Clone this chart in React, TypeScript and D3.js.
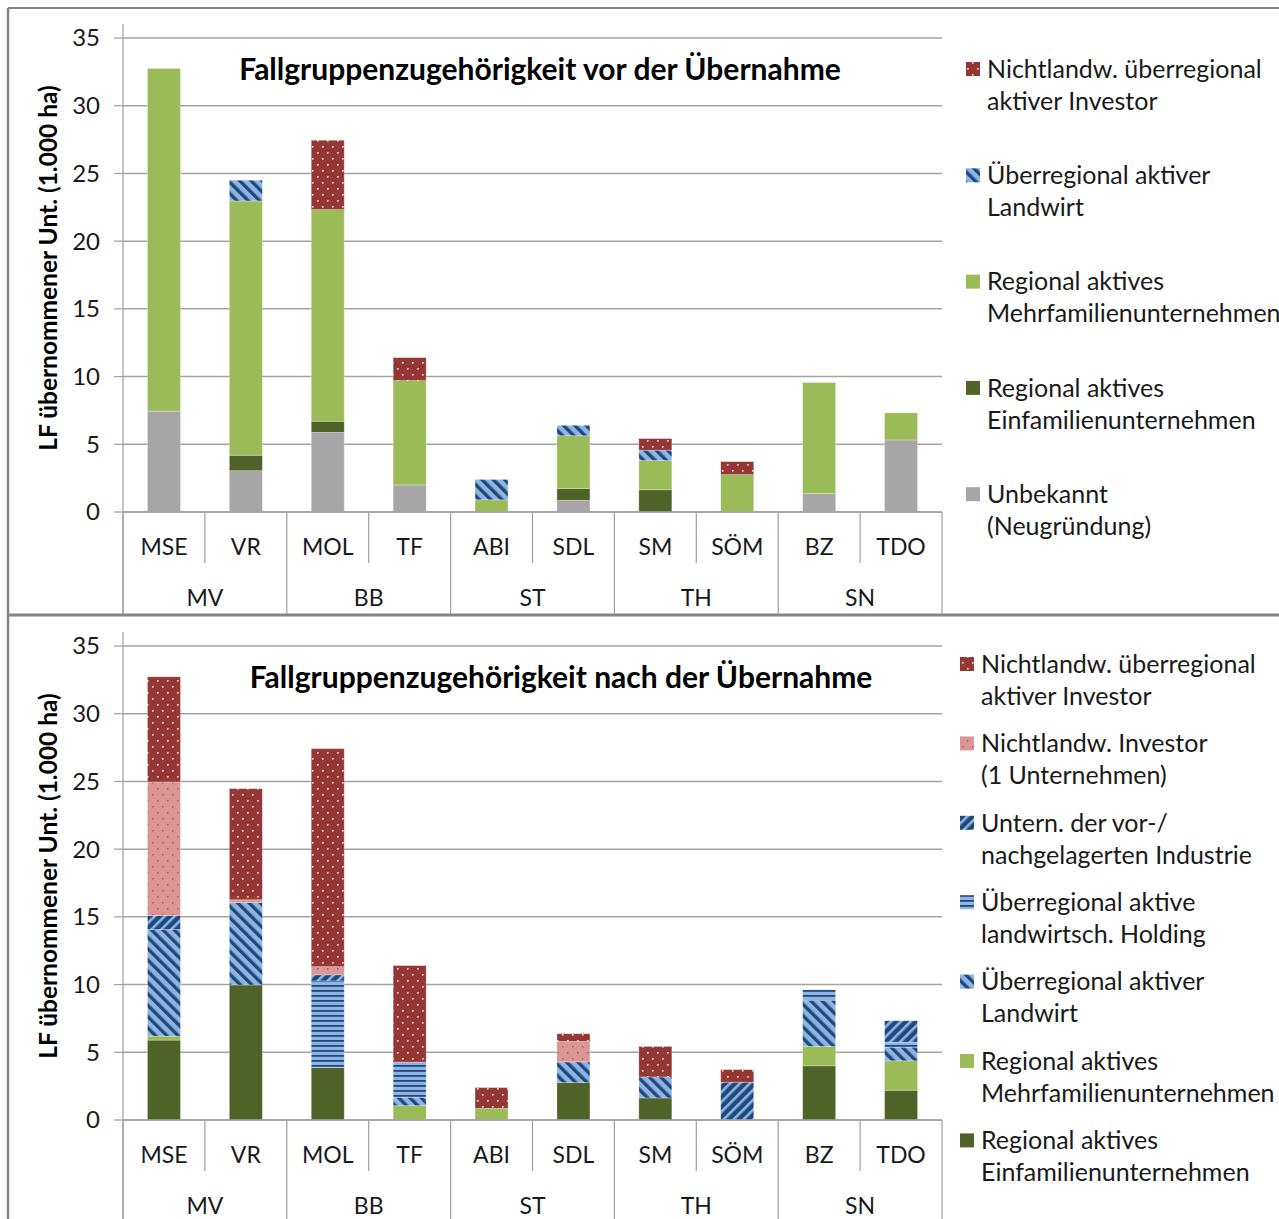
import React from 'react';
import * as d3 from 'd3';

const categories = ['MSE', 'VR', 'MOL', 'TF', 'ABI', 'SDL', 'SM', 'SÖM', 'BZ', 'TDO'];
const groups = ['MV', 'BB', 'ST', 'TH', 'SN'];
const yTicks = [0, 5, 10, 15, 20, 25, 30, 35];

// Panel 1: vor der Übernahme (stack order bottom -> top)
const vorUnbekannt = [7.45, 3.05, 5.88, 2.0, 0, 0.86, 0, 0, 1.36, 5.32];
const vorEinfamilien = [0, 1.14, 0.82, 0, 0, 0.87, 1.64, 0, 0, 0];
const vorMehrfamilien = [25.3, 18.78, 15.63, 7.7, 0.9, 3.9, 2.16, 2.76, 8.2, 2.0];
const vorLandwirt = [0, 1.53, 0, 0, 1.5, 0.77, 0.76, 0, 0, 0];
const vorNichtlandwUeber = [0, 0, 5.12, 1.7, 0, 0, 0.86, 0.96, 0, 0];

// Panel 2: nach der Übernahme (stack order bottom -> top)
const nachEinfamilien = [5.9, 9.97, 3.87, 0, 0, 2.76, 1.63, 0, 4.0, 2.2];
const nachMehrfamilien = [0.29, 0, 0, 1.06, 0.86, 0, 0, 0, 1.43, 2.17];
const nachLandwirt = [7.87, 6.09, 0, 0.62, 0, 1.53, 1.55, 0, 3.4, 1.01];
const nachHolding = [0, 0, 6.4, 2.59, 0, 0, 0, 0, 0.79, 0.37];
const nachIndustrie = [1.04, 0, 0.45, 0, 0, 0, 0, 2.79, 0, 1.58];
const nachInvestor1 = [9.86, 0.2, 0.6, 0, 0, 1.51, 0, 0, 0, 0];
const nachNichtlandwUeber = [7.77, 8.21, 16.1, 7.13, 1.53, 0.57, 2.25, 0.93, 0, 0];

type Series = { key: string; values: number[]; fill: string; label: string[] };

const vorSeries: Series[] = [
  { key: 'unb', values: vorUnbekannt, fill: '#A6A6A6', label: ['Unbekannt', '(Neugründung)'] },
  { key: 'ein', values: vorEinfamilien, fill: '#4F6228', label: ['Regional aktives', 'Einfamilienunternehmen'] },
  { key: 'mehr', values: vorMehrfamilien, fill: '#9BBB59', label: ['Regional aktives', 'Mehrfamilienunternehmen'] },
  { key: 'lw', values: vorLandwirt, fill: 'url(#pLandwirt)', label: ['Überregional aktiver', 'Landwirt'] },
  { key: 'nl', values: vorNichtlandwUeber, fill: 'url(#pRedDots)', label: ['Nichtlandw. überregional', 'aktiver Investor'] },
];

const nachSeries: Series[] = [
  { key: 'ein', values: nachEinfamilien, fill: '#4F6228', label: ['Regional aktives', 'Einfamilienunternehmen'] },
  { key: 'mehr', values: nachMehrfamilien, fill: '#9BBB59', label: ['Regional aktives', 'Mehrfamilienunternehmen'] },
  { key: 'lw', values: nachLandwirt, fill: 'url(#pLandwirt)', label: ['Überregional aktiver', 'Landwirt'] },
  { key: 'hold', values: nachHolding, fill: 'url(#pHolding)', label: ['Überregional aktive', 'landwirtsch. Holding'] },
  { key: 'ind', values: nachIndustrie, fill: 'url(#pIndustrie)', label: ['Untern. der vor-/', 'nachgelagerten Industrie'] },
  { key: 'inv1', values: nachInvestor1, fill: 'url(#pPinkDots)', label: ['Nichtlandw. Investor', '(1 Unternehmen)'] },
  { key: 'nl', values: nachNichtlandwUeber, fill: 'url(#pRedDots)', label: ['Nichtlandw. überregional', 'aktiver Investor'] },
];

const FONT = 'Lato, "Open Sans", sans-serif';
const GRID = '#A3A3A3';
const AXIS = '#A0A0A0';
const FRAME = '#858585';

const X0 = 123;
const X1 = 942;

type PanelProps = {
  dy: number;
  title: string;
  titleX: number;
  series: Series[];
  legendX: number;
  legendY: number;
  legendStep: number;
};

function Panel({ dy, title, titleX, series, legendX, legendY, legendStep }: PanelProps) {
  const x = d3.scaleBand<string>().domain(categories).range([X0, X1]).paddingInner(0.597).paddingOuter(0.2985);
  const y = d3.scaleLinear().domain([0, 35]).range([512 + dy, 38 + dy]);
  const step = x.step();
  const rows = categories.map((c, i) => {
    const r: Record<string, any> = { cat: c };
    series.forEach((s) => (r[s.key] = s.values[i]));
    return r;
  });
  const stacked = d3.stack<any>().keys(series.map((s) => s.key))(rows);
  const axisY = y(0);
  const legendItems = [...series].reverse();
  return (
    <g>
      {yTicks.map((t) => (
        <line key={'g' + t} x1={X0} x2={X1} y1={y(t)} y2={y(t)} stroke={GRID} strokeWidth={1.5} />
      ))}
      {yTicks.map((t) => (
        <g key={'t' + t}>
          <line x1={X0 - 9} x2={X0} y1={y(t)} y2={y(t)} stroke={AXIS} strokeWidth={1.2} />
          <text x={100} y={y(t)} dy="0.35em" textAnchor="end" fontFamily={FONT} fontSize={24} fill="#1a1a1a">
            {t}
          </text>
        </g>
      ))}
      <line x1={X0} x2={X0} y1={24 + dy} y2={614 + dy} stroke={AXIS} strokeWidth={1.2} />
      <text
        transform={`translate(48,${268 + dy}) rotate(-90)`}
        textAnchor="middle"
        dy="0.35em"
        fontFamily={FONT}
        fontWeight={700}
        fontSize={24.5}
        fill="#000"
      >
        LF übernommener Unt. (1.000 ha)
      </text>
      {stacked.map((layer, li) => (
        <g key={layer.key} fill={series[li].fill}>
          {layer.map((d, i) =>
            d[1] - d[0] > 0 ? (
              <rect
                key={i}
                x={x(categories[i])!}
                width={x.bandwidth()}
                y={y(d[1])}
                height={y(d[0]) - y(d[1])}
                stroke="rgba(255,255,255,0.35)"
                strokeWidth={0.8}
              />
            ) : null
          )}
        </g>
      ))}
      <line x1={X0} x2={X1} y1={axisY} y2={axisY} stroke={AXIS} strokeWidth={1.5} />
      {categories.map((c, i) => {
        const left = x(c)! - (step - x.bandwidth()) / 2;
        const isGroupStart = i % 2 === 0;
        return (
          <line
            key={'s' + c}
            x1={left}
            x2={left}
            y1={axisY}
            y2={isGroupStart ? 614 + dy : 563 + dy}
            stroke={AXIS}
            strokeWidth={1.2}
          />
        );
      })}
      <line x1={X1} x2={X1} y1={axisY} y2={614 + dy} stroke={AXIS} strokeWidth={1.2} />
      {categories.map((c) => (
        <text
          key={'c' + c}
          x={x(c)! + x.bandwidth() / 2}
          y={547 + dy}
          dy="0.35em"
          textAnchor="middle"
          fontFamily={FONT}
          fontSize={23}
          fill="#1a1a1a"
        >
          {c}
        </text>
      ))}
      {groups.map((g, gi) => {
        const a = x(categories[gi * 2])! + x.bandwidth() / 2;
        const b = x(categories[gi * 2 + 1])! + x.bandwidth() / 2;
        return (
          <text
            key={'gr' + g}
            x={(a + b) / 2}
            y={598 + dy}
            dy="0.35em"
            textAnchor="middle"
            fontFamily={FONT}
            fontSize={23}
            fill="#1a1a1a"
          >
            {g}
          </text>
        );
      })}
      <text
        x={titleX}
        y={69 + dy}
        dy="0.35em"
        textAnchor="middle"
        fontFamily={FONT}
        fontWeight={700}
        fontSize={30}
        fill="#000"
      >
        {title}
      </text>
      {legendItems.map((s, i) => {
        const ly = legendY + i * legendStep;
        return (
          <g key={'l' + s.key}>
            <rect x={legendX} y={ly - 7} width={14} height={14} fill={s.fill} />
            <text x={legendX + 21} y={ly} dy="0.35em" fontFamily={FONT} fontSize={25} fill="#1a1a1a">
              {s.label[0]}
            </text>
            <text x={legendX + 21} y={ly + 32} dy="0.35em" fontFamily={FONT} fontSize={25} fill="#1a1a1a">
              {s.label[1]}
            </text>
          </g>
        );
      })}
    </g>
  );
}

export default function App() {
  const W = 1279;
  const H = 1219;
  return (
    <svg
      width={W}
      height={H}
      viewBox={`0 0 ${W} ${H}`}
      style={{ position: 'absolute', left: 0, top: 0, background: '#fff' }}
    >
      <defs>
        <pattern id="pRedDots" patternUnits="userSpaceOnUse" width={10} height={12}>
          <rect width={10} height={12} fill="#953735" />
          <rect x={2} y={2} width={1.6} height={1.6} fill="#f4dede" />
          <rect x={7} y={8} width={1.6} height={1.6} fill="#f4dede" />
        </pattern>
        <pattern id="pPinkDots" patternUnits="userSpaceOnUse" width={10} height={12}>
          <rect width={10} height={12} fill="#D99694" />
          <rect x={2} y={2} width={1.5} height={1.5} fill="#C0504D" />
          <rect x={7} y={8} width={1.5} height={1.5} fill="#C0504D" />
        </pattern>
        <pattern id="pLandwirt" patternUnits="userSpaceOnUse" width={8} height={8} patternTransform="rotate(-45)">
          <rect width={8} height={8} fill="#8EB4E3" />
          <rect x={0} y={0} width={3.4} height={8} fill="#1F497D" />
        </pattern>
        <pattern id="pIndustrie" patternUnits="userSpaceOnUse" width={7} height={7} patternTransform="rotate(45)">
          <rect width={7} height={7} fill="#1F497D" />
          <rect x={0} y={0} width={2.6} height={7} fill="#8EB4E3" />
        </pattern>
        <pattern id="pHolding" patternUnits="userSpaceOnUse" width={8} height={5}>
          <rect width={8} height={5} fill="#8EB4E3" />
          <rect x={0} y={0} width={8} height={1.8} fill="#1F497D" />
        </pattern>
      </defs>
      <rect x={0} y={0} width={W} height={H} fill="#fff" />
      <Panel
        dy={0}
        title="Fallgruppenzugehörigkeit vor der Übernahme"
        titleX={540}
        series={vorSeries}
        legendX={966}
        legendY={69}
        legendStep={106.3}
      />
      <Panel
        dy={608}
        title="Fallgruppenzugehörigkeit nach der Übernahme"
        titleX={561}
        series={nachSeries}
        legendX={960}
        legendY={664}
        legendStep={79.4}
      />
      <line x1={8} x2={W} y1={8} y2={8} stroke={FRAME} strokeWidth={2} />
      <line x1={8} x2={8} y1={8} y2={H} stroke={FRAME} strokeWidth={2.5} />
      <line x1={8} x2={W} y1={615} y2={615} stroke={FRAME} strokeWidth={3} />
    </svg>
  );
}
